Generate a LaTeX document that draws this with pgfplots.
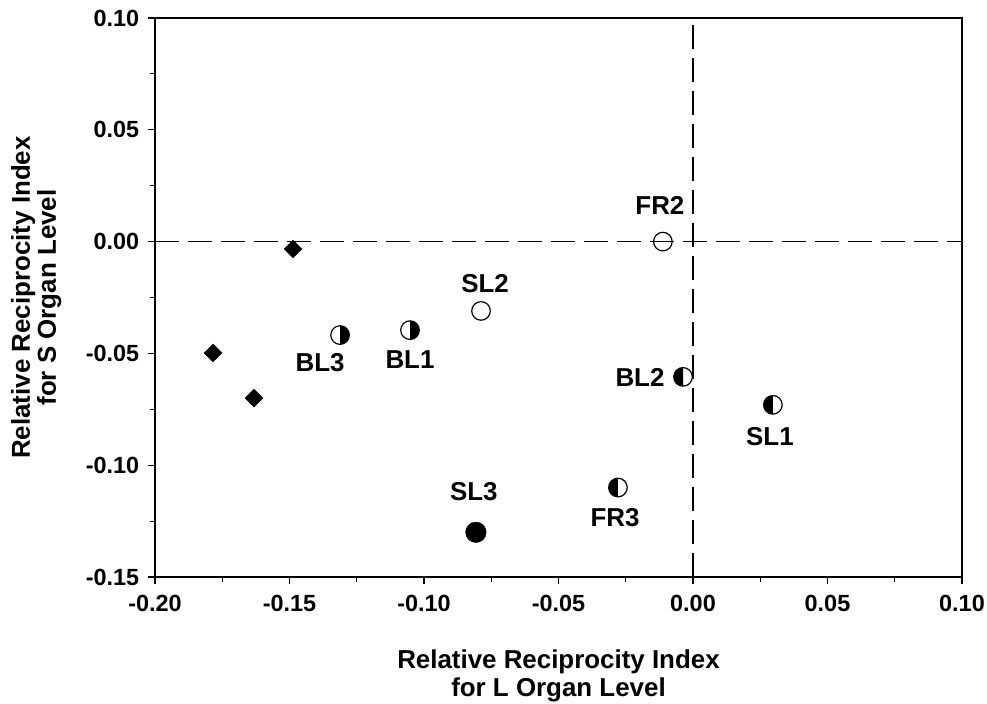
\documentclass[border=0pt]{standalone}
\usepackage{fontspec}
\setmainfont{Liberation Sans}
\usepackage{pgfplots}
\pgfplotsset{compat=1.18}
\pgfdeclareplotmark{halfright}{%
  \pgfpathcircle{\pgfpointorigin}{\pgfplotmarksize}%
  \pgfsetfillcolor{white}\pgfusepathqfillstroke
  \pgfpathmoveto{\pgfqpoint{0pt}{\pgfplotmarksize}}%
  \pgfpatharc{90}{-90}{\pgfplotmarksize}\pgfpathclose
  \pgfsetfillcolor{black}\pgfusepathqfill
}
\pgfdeclareplotmark{halfleft}{%
  \pgfpathcircle{\pgfpointorigin}{\pgfplotmarksize}%
  \pgfsetfillcolor{white}\pgfusepathqfillstroke
  \pgfpathmoveto{\pgfqpoint{0pt}{\pgfplotmarksize}}%
  \pgfpatharc{90}{270}{\pgfplotmarksize}\pgfpathclose
  \pgfsetfillcolor{black}\pgfusepathqfill
}
\begin{document}
\fontsize{23}{26}\selectfont\bfseries
\begin{tikzpicture}
\useasboundingbox (-155bp,-127bp) rectangle (832bp,577bp);
\begin{axis}[
  scale only axis, width=807bp, height=559bp,
  xmin=-0.2, xmax=0.1, ymin=-0.15, ymax=0.10,
  xtick={-0.2,-0.15,...,0.1}, ytick={-0.15,-0.1,...,0.1},
  minor x tick num=1, minor y tick num=1,
  tick align=outside, xtick pos=bottom, ytick pos=left,
  major tick length=7bp, minor tick length=5bp,
  axis line style={line width=1.3pt}, tick style={line width=1.2pt, black},
  /pgf/number format/fixed, /pgf/number format/fixed zerofill,
  /pgf/number format/precision=2, /pgf/number format/assume math mode=true,
  ticklabel style={font=\fontsize{23.5}{26}\selectfont\bfseries},
  xticklabel style={yshift=-3bp},
  yticklabel style={xshift=-1bp},
  xlabel={Relative Reciprocity Index\\for L Organ Level},
  ylabel={Relative Reciprocity Index\\for S Organ Level},
  xlabel style={align=center, font=\fontsize{26}{28}\selectfont\bfseries, yshift=-23bp},
  ylabel style={align=center, font=\fontsize{26}{26}\selectfont\bfseries, yshift=9bp},
  clip=false,
]
\addplot[black, line width=1.1pt, dash pattern=on 24bp off 9bp] coordinates {(-0.2,0) (0.1,0)};
\addplot[black, line width=1.1pt, dash pattern=on 24bp off 9bp] coordinates {(0,-0.15) (0,0.1)};
% diamonds
\addplot[only marks, mark=square*, mark size=6.3bp, mark options={rotate=45, fill=black, draw=black}] coordinates {(-0.1487,-0.0033) (-0.1784,-0.0498) (-0.1632,-0.0700)};
% open circles
\addplot[only marks, mark=o, mark size=9.3bp, mark options={line width=1.2pt, fill=white, draw=black}] coordinates {(-0.0788,-0.0310) (-0.0112,0.0000)};
% filled
\addplot[only marks, mark=*, mark size=10.3bp, mark options={fill=black, draw=black}] coordinates {(-0.0807,-0.1300)};
% right half black
\addplot[only marks, mark=halfright, mark size=9.3bp, mark options={line width=1.2pt, draw=black}] coordinates {(-0.1312,-0.0418) (-0.1052,-0.0396)};
% left half black
\addplot[only marks, mark=halfleft, mark size=9.3bp, mark options={line width=1.2pt, draw=black}] coordinates {(-0.0037,-0.0605) (0.0297,-0.0730) (-0.0279,-0.1100)};
\tikzset{lab/.style={font=\fontsize{26}{28}\selectfont\bfseries}}
\node[lab] at (axis cs:-0.0123,0.0160) {FR2};
\node[lab] at (axis cs:-0.0773,-0.0188) {SL2};
\node[lab] at (axis cs:-0.1386,-0.0540) {BL3};
\node[lab] at (axis cs:-0.1052,-0.0528) {BL1};
\node[lab] at (axis cs:-0.0197,-0.0608) {BL2};
\node[lab] at (axis cs:0.0286,-0.0873) {SL1};
\node[lab] at (axis cs:-0.0815,-0.1120) {SL3};
\node[lab] at (axis cs:-0.0290,-0.1235) {FR3};
\end{axis}
\end{tikzpicture}
\end{document}
